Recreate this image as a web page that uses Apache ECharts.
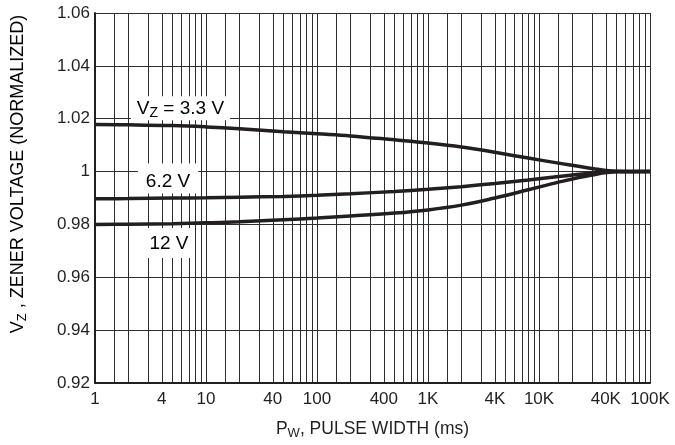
<!DOCTYPE html>
<html>
<head>
<meta charset="utf-8">
<script src="https://cdn.jsdelivr.net/npm/echarts@6/dist/echarts.min.js"></script>
<style>
  html, body { margin: 0; padding: 0; background: #fff; }
  #chart { width: 675px; height: 445px; }
</style>
</head>
<body>
<div id="chart"></div>
<script>
// pulse width (ms) where the curves were read
var pulseWidth = [1, 2, 5, 10, 20, 50, 100, 200, 500, 1000, 2000, 4000, 8000, 15000, 30000, 50000, 100000];

// normalized zener voltage, one list per curve
var vz33 = [1.0178, 1.0177, 1.0174, 1.0169, 1.0162, 1.0151, 1.0143, 1.0135, 1.0120, 1.0108, 1.0093, 1.0073, 1.0051, 1.0032, 1.0012, 1.0001, 1.0000];
var vz62 = [0.9897, 0.9898, 0.9900, 0.9901, 0.9903, 0.9906, 0.9910, 0.9916, 0.9925, 0.9933, 0.9943, 0.9955, 0.9968, 0.9981, 0.9995, 1.0000, 1.0000];
var vz12 = [0.9800, 0.9801, 0.9803, 0.9806, 0.9810, 0.9818, 0.9824, 0.9832, 0.9843, 0.9855, 0.9873, 0.9900, 0.9931, 0.9960, 0.9987, 0.9999, 1.0000];

// x tick labels
var xTickValues = [1, 4, 10, 40, 100, 400, 1000, 4000, 10000, 40000, 100000];
var xTickLabels = ['1', '4', '10', '40', '100', '400', '1K', '4K', '10K', '40K', '100K'];

// log paper grid: these steps inside every decade
var decades = [1, 10, 100, 1000, 10000];
var decadeSteps = [1, 1.5, 2, 3, 4, 5, 6, 7, 8, 9];

var gridValues = [];
decades.forEach(function (d) {
  decadeSteps.forEach(function (s) { gridValues.push(d * s); });
});
gridValues.push(100000);

// curve labels, box centre given in data coordinates
var notes = [
  { key: 'v33', at: [5.89, 1.0240] },
  { key: 'v62', at: [4.55, 0.99735] },
  { key: 'v12', at: [4.64, 0.9730] }
];

var FONT = '"Liberation Sans", Arial, sans-serif';
var INK = '#231f20';

function pairs(vals) {
  return pulseWidth.map(function (x, i) { return [x, vals[i]]; });
}

var chart = echarts.init(document.getElementById('chart'));

var option = {
  animation: false,
  backgroundColor: '#fff',
  grid: { left: 95, right: 25, top: 13, bottom: 62, containLabel: false },
  xAxis: {
    type: 'log',
    logBase: 10,
    min: 1,
    max: 100000,
    name: '{a|P}{sub|W}{a|, PULSE WIDTH (ms)}',
    nameLocation: 'middle',
    nameGap: 35,
    nameTextStyle: {
      rich: {
        a: { fontFamily: FONT, fontSize: 17.5, color: INK },
        sub: { fontFamily: FONT, fontSize: 13, color: INK, padding: [9, 0, 0, 0] }
      }
    },
    axisLine: { show: true, onZero: false, lineStyle: { color: INK, width: 2 } },
    axisTick: { show: false, customValues: gridValues },
    splitLine: { show: true, lineStyle: { color: '#2e2e2e', width: 1 } },
    axisLabel: {
      customValues: xTickValues,
      margin: 8,
      fontFamily: FONT,
      fontSize: 17,
      color: INK,
      formatter: function (v) {
        var i = xTickValues.indexOf(v);
        return i >= 0 ? xTickLabels[i] : '';
      }
    }
  },
  yAxis: {
    type: 'value',
    min: 0.92,
    max: 1.06,
    interval: 0.02,
    axisLine: { show: true, onZero: false, lineStyle: { color: INK, width: 2 } },
    axisTick: { show: false },
    splitLine: { show: true, lineStyle: { color: '#2e2e2e', width: 1 } },
    axisLabel: {
      margin: 5,
      fontFamily: FONT,
      fontSize: 17,
      color: INK,
      formatter: function (v) {
        return Math.abs(v - 1) < 1e-9 ? '1' : v.toFixed(2);
      }
    }
  },
  series: [
    { name: '3.3 V', data: pairs(vz33) },
    { name: '6.2 V', data: pairs(vz62) },
    { name: '12 V', data: pairs(vz12) }
  ].map(function (s) {
    return {
      type: 'line',
      name: s.name,
      data: s.data,
      smooth: 0.4,
      showSymbol: false,
      z: 3,
      lineStyle: { color: INK, width: 3.5 }
    };
  })
};

chart.setOption(option);

var noteText = {
  v33: '{a|V}{sub|Z}{a| = 3.3 V}',
  v62: '{a|6.2 V}',
  v12: '{a|12 V}'
};
var notePad = {
  v33: [2, 6, 0, 6],
  v62: [8, 8, 2, 8],
  v12: [6, 5, 4, 5]
};
var noteRich = {
  a: { fontFamily: FONT, fontSize: 19, lineHeight: 20, color: INK },
  sub: { fontFamily: FONT, fontSize: 14, color: INK, padding: [8, 0, 0, 0] }
};

var graphics = notes.map(function (n) {
  var p = chart.convertToPixel({ gridIndex: 0 }, n.at);
  return {
    type: 'text',
    x: p[0],
    y: p[1],
    z: 1,
    style: {
      text: noteText[n.key],
      rich: noteRich,
      align: 'center',
      verticalAlign: 'middle',
      backgroundColor: '#fff',
      padding: notePad[n.key]
    }
  };
});

graphics.push({
  type: 'text',
  x: 18,
  y: 174,
  rotation: Math.PI / 2,
  style: {
    text: '{a|V}{sub|Z}{a| , ZENER VOLTAGE (NORMALIZED)}',
    rich: {
      a: { fontFamily: FONT, fontSize: 18, color: INK },
      sub: { fontFamily: FONT, fontSize: 13, color: INK, padding: [9, 0, 0, 0] }
    },
    align: 'center',
    verticalAlign: 'middle'
  }
});

chart.setOption({ graphic: graphics });
</script>
</body>
</html>
